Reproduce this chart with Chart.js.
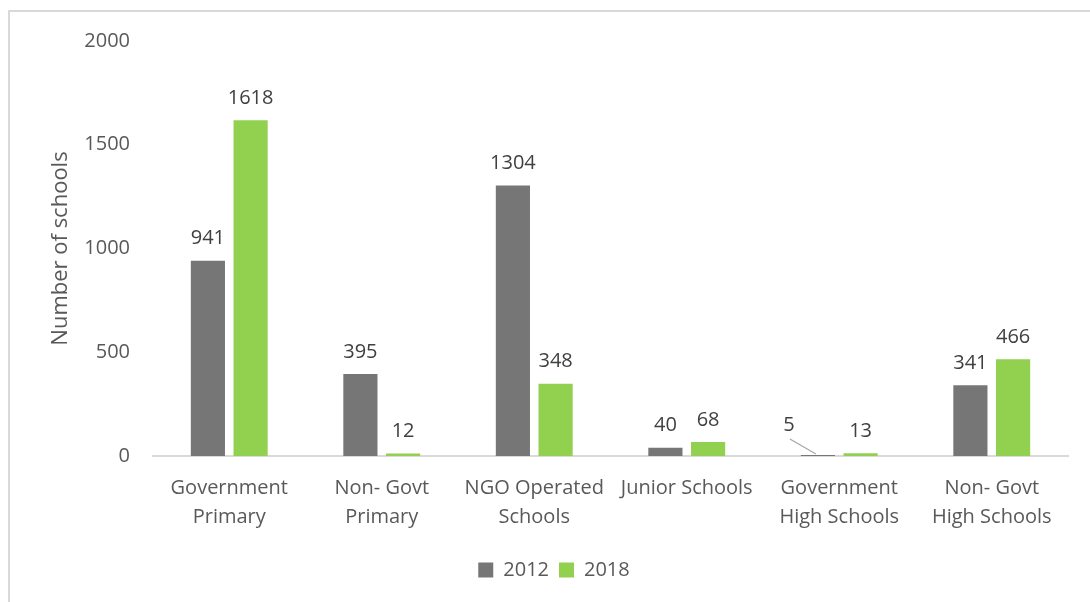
<!DOCTYPE html>
<html>
<head>
<meta charset="utf-8">
<script src="https://cdn.jsdelivr.net/npm/chart.js@4"></script>
<style>
  html, body { margin: 0; padding: 0; background: #fff; overflow: hidden; }
  #frame { position: absolute; left: 8px; top: 10px; width: 1100px; height: 620px; border: 2px solid #d9d9d9; box-sizing: border-box; }
  #wrap { position: absolute; left: 0; top: 0; width: 1090px; height: 602px; }
</style>
</head>
<body>
<div id="frame"></div>
<div id="wrap"><canvas id="chart" width="1090" height="602"></canvas></div>
<script>
// school categories (two-line labels)
const categories = [
  ['Government', 'Primary'],
  ['Non- Govt', 'Primary'],
  ['NGO Operated', 'Schools'],
  ['Junior Schools'],
  ['Government', 'High Schools'],
  ['Non- Govt', 'High Schools']
];
const schools2012 = [941, 395, 1304, 40, 5, 341];
const schools2018 = [1618, 12, 348, 68, 13, 466];
const yTicks = [0, 500, 1000, 1500, 2000];

const FONT = "'Open Sans', 'Noto Sans', sans-serif";

// value labels above bars, with a small leader line for a label pushed aside
const valueLabels = {
  id: 'valueLabels',
  afterDatasetsDraw(chart) {
    const ctx = chart.ctx;
    ctx.save();
    ctx.font = '20px ' + FONT;
    ctx.fillStyle = '#404040';
    ctx.textAlign = 'center';
    ctx.textBaseline = 'bottom';
    chart.data.datasets.forEach((ds, di) => {
      chart.getDatasetMeta(di).data.forEach((bar, i) => {
        const v = ds.data[i];
        if (di === 0 && v < 10) {
          // tiny bar: label moved up-left with a leader line
          const lx = bar.x - 29, ly = bar.y - 20;
          ctx.fillText(String(v), lx, ly);
          ctx.strokeStyle = '#a6a6a6';
          ctx.lineWidth = 1.2;
          ctx.beginPath();
          ctx.moveTo(lx + 1, ly + 4);
          ctx.lineTo(bar.x - 2, bar.y - 1);
          ctx.stroke();
        } else {
          ctx.fillText(String(v), bar.x, bar.y - 12);
        }
      });
    });
    ctx.restore();
  }
};

new Chart(document.getElementById('chart'), {
  type: 'bar',
  data: {
    labels: categories,
    datasets: [
      { label: '2012', data: schools2012, backgroundColor: '#767676', categoryPercentage: 0.56, barPercentage: 0.8 },
      { label: '2018', data: schools2018, backgroundColor: '#92d050', categoryPercentage: 0.56, barPercentage: 0.8 }
    ]
  },
  options: {
    responsive: false,
    animation: false,
    layout: { padding: { left: 40, right: 22, top: 41, bottom: 12 } },
    plugins: {
      tooltip: { enabled: false },
      legend: {
        position: 'bottom',
        labels: {
          boxWidth: 15, boxHeight: 15, padding: 10,
          color: '#595959',
          font: { family: FONT, size: 20 }
        }
      }
    },
    scales: {
      x: {
        grid: { display: false, drawTicks: false },
        border: { color: '#d9d9d9', width: 2 },
        ticks: {
          color: '#595959', padding: 18, maxRotation: 0, autoSkip: false,
          font: { family: FONT, size: 20, lineHeight: 1.45 }
        },
        afterFit(scale) { scale.height = 94; }
      },
      y: {
        min: 0, max: 2000,
        afterBuildTicks(scale) { scale.ticks = yTicks.map(v => ({ value: v })); },
        grid: { display: false, drawTicks: false },
        border: { display: false },
        ticks: {
          color: '#595959', padding: 23, font: { family: FONT, size: 20 },
          callback: v => String(v)
        },
        title: {
          display: true, text: 'Number of schools',
          color: '#595959', font: { family: FONT, size: 22 }, padding: { top: 8, bottom: 0 }
        },
        afterFit(scale) { scale.width = 113; }
      }
    }
  },
  plugins: [valueLabels]
});
</script>
</body>
</html>
